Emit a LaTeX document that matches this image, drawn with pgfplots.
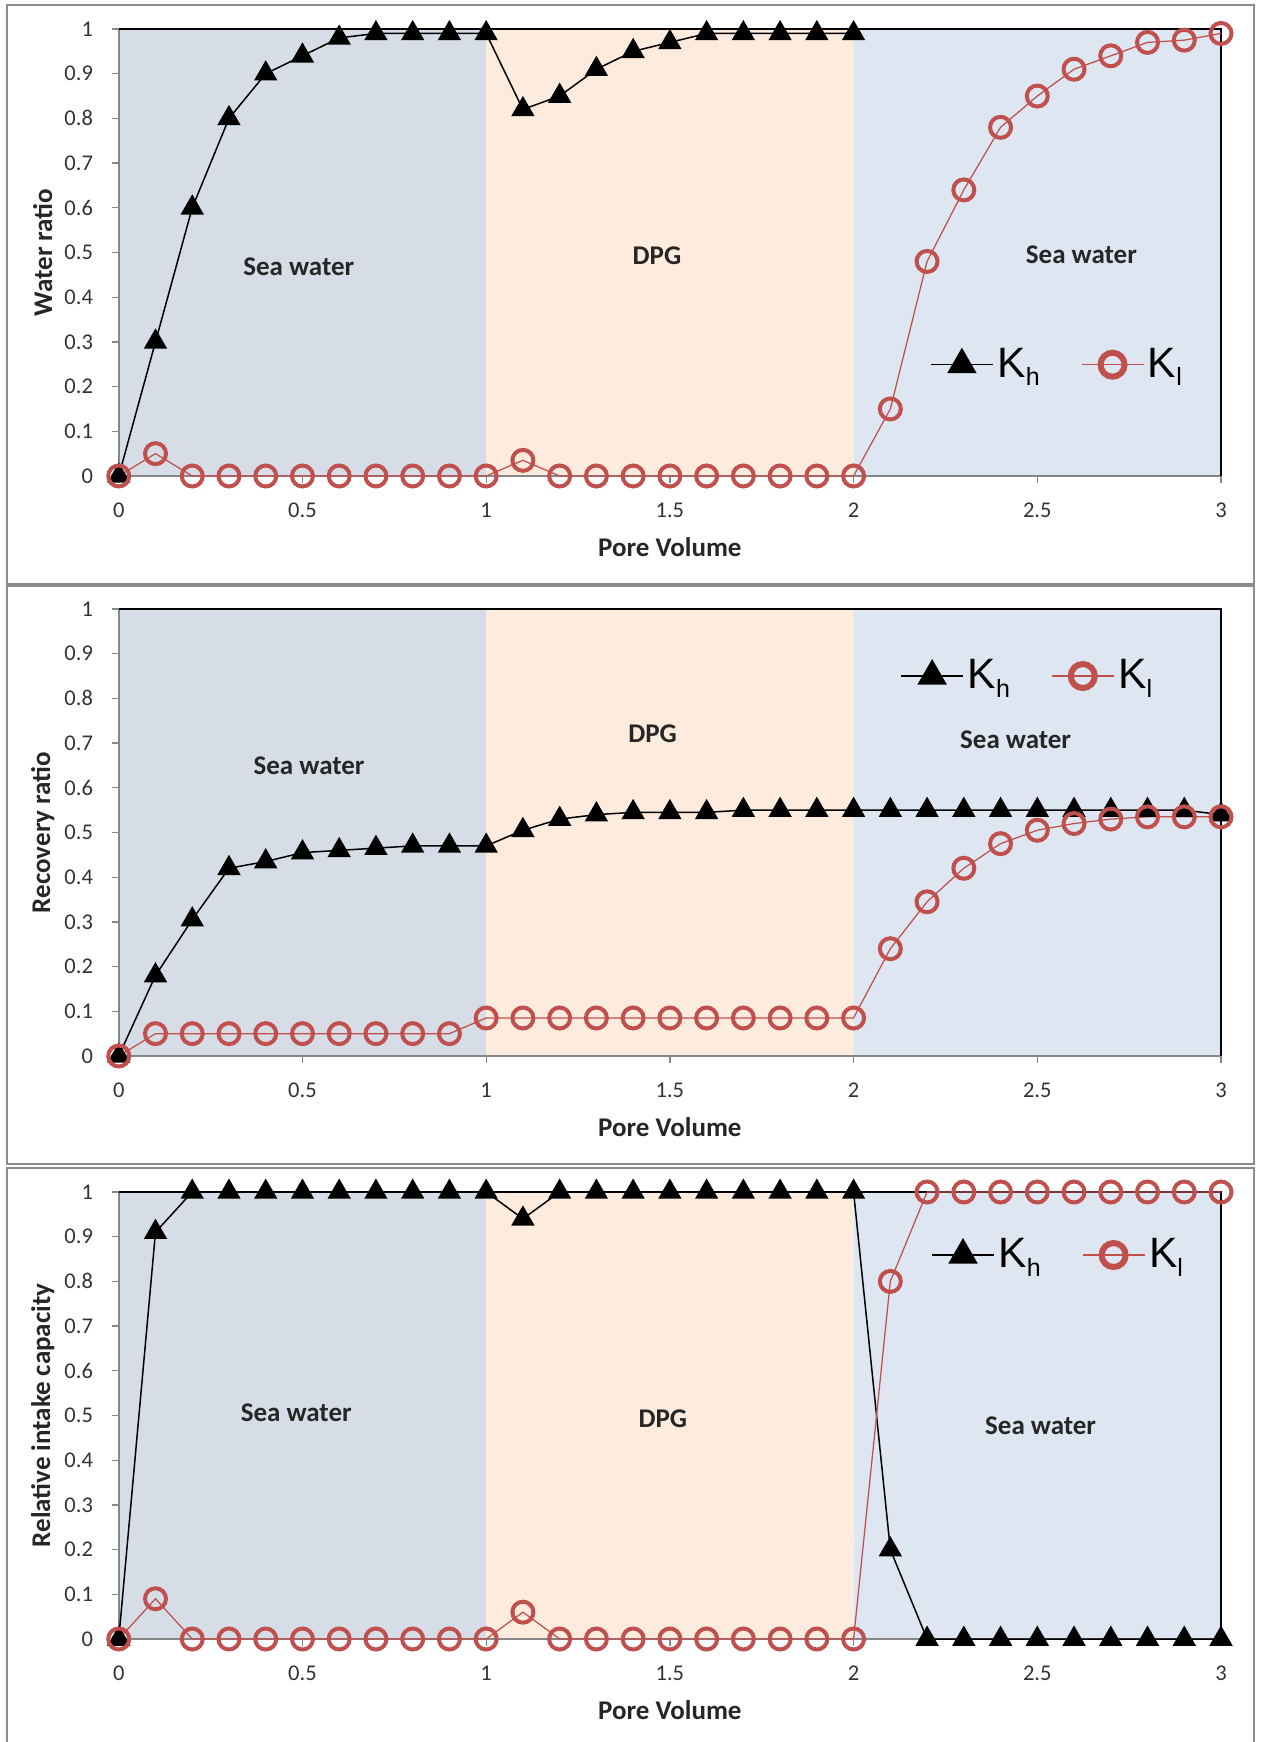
\documentclass[border=0pt]{standalone}
\usepackage{fontspec}
\setmainfont{Carlito}
\newfontfamily\arial{Liberation Sans}
\usepackage{pgfplots}
\pgfplotsset{compat=1.18}
\definecolor{klc}{RGB}{192,80,77}
\definecolor{bgL}{RGB}{215,221,230}
\definecolor{bgM}{RGB}{253,235,222}
\definecolor{bgR}{RGB}{221,230,241}
\definecolor{axgray}{RGB}{134,134,134}
\definecolor{frc}{RGB}{140,140,140}
\newcommand{\sub}[1]{\raisebox{-3.3pt}{\fontsize{10}{10}\selectfont #1}}
\tikzset{annot/.style={font=\bfseries\fontsize{10.8}{12}\selectfont, text=black!85}}
\pgfplotsset{
 panel/.style={
  scale only axis, width=440.9pt, height=178.8pt,
  xmin=0,xmax=3,ymin=0,ymax=1, clip=false,
  axis line style={draw=none},
  xtick={0,0.5,1,1.5,2,2.5,3}, xticklabels={0,0.5,1,1.5,2,2.5,3},
  ytick={0,0.1,0.2,0.3,0.4,0.5,0.6,0.7,0.8,0.9,1},
  yticklabels={0,0.1,0.2,0.3,0.4,0.5,0.6,0.7,0.8,0.9,1},
  xtick pos=bottom, ytick pos=left, tick align=outside,
  major tick length=2.8pt,
  tick style={draw=axgray, line width=0.5pt},
  tick label style={font=\fontsize{9}{10}\selectfont, text=black!80},
  yticklabel style={xshift=-4pt},
  xticklabel style={yshift=-4.5pt},
  xlabel={Pore Volume},
  label style={font=\bfseries\fontsize{10.8}{12}\selectfont, text=black!85},
  xlabel style={at={(axis description cs:0.5,-0.159)}, anchor=center},
  ylabel style={at={(axis description cs:-0.069,0.5)}, anchor=center},
  legend columns=2,
  legend style={draw=none, fill=none, anchor=center, font=\arial\fontsize{17}{18}\selectfont,
    nodes={inner xsep=1.5pt, inner ysep=1pt},
    /tikz/every even column/.append style={column sep=15pt}},
 },
 kh/.style={black, line width=0.6pt, mark=triangle*, mark size=4.8pt, mark options={solid, fill=black},
   legend image code/.code={%
     \draw[black, line width=0.6pt] (0pt,0pt) -- (24.8pt,0pt);
     \path[draw=black, fill=black] plot[only marks, mark=triangle*, mark size=6.2pt] coordinates {(12.4pt,0pt)};}},
 kl/.style={klc, line width=0.5pt, mark=o, mark size=4.2pt, mark options={solid, line width=1.6pt},
   legend image code/.code={%
     \draw[klc, line width=0.5pt] (0pt,0pt) -- (24.8pt,0pt);
     \draw[klc, line width=2.4pt] (12.4pt,0pt) circle[radius=4.8pt];}},
}
\newcommand{\backgrounds}{%
  \addplot[fill=bgL, draw=none, forget plot] coordinates {(0,0) (0,1) (1,1) (1,0)} \closedcycle;
  \addplot[fill=bgM, draw=none, forget plot] coordinates {(1,0) (1,1) (2,1) (2,0)} \closedcycle;
  \addplot[fill=bgR, draw=none, forget plot] coordinates {(2,0) (2,1) (3,1) (3,0)} \closedcycle;
  \addplot[axgray, line width=0.6pt, forget plot] coordinates {(0,1) (0,0) (3,0)};
  \addplot[black, line width=0.7pt, forget plot] coordinates {(0,1) (3,1) (3,0)};
}
\begin{document}
\begin{tikzpicture}
\path[use as bounding box] (0,0) rectangle (505.2pt,696.8pt);
\draw[frc, line width=0.8pt] (2.8pt,463.2pt) rectangle (501.6pt,694.8pt);
\draw[frc, line width=0.8pt] (2.8pt,231.2pt) rectangle (501.6pt,462.4pt);
\draw[frc, line width=0.8pt] (2.8pt,-2pt) rectangle (501.6pt,229.6pt);

% Panel 1
\begin{axis}[panel, at={(47.5pt,506.4pt)}, anchor=south west, ylabel={Water ratio},
  legend style={at={(axis description cs:0.852,0.249)}}]
\backgrounds
\addplot[kh] coordinates {(0,0) (0.1,0.30) (0.2,0.60) (0.3,0.80) (0.4,0.90) (0.5,0.94) (0.6,0.98) (0.7,0.99) (0.8,0.99) (0.9,0.99) (1.0,0.99) (1.1,0.82) (1.2,0.85) (1.3,0.91) (1.4,0.95) (1.5,0.97) (1.6,0.99) (1.7,0.99) (1.8,0.99) (1.9,0.99) (2.0,0.99)};
\addplot[kl] coordinates {(0,0) (0.1,0.05) (0.2,0) (0.3,0) (0.4,0) (0.5,0) (0.6,0) (0.7,0) (0.8,0) (0.9,0) (1.0,0) (1.1,0.035) (1.2,0) (1.3,0) (1.4,0) (1.5,0) (1.6,0) (1.7,0) (1.8,0) (1.9,0) (2.0,0) (2.1,0.15) (2.2,0.48) (2.3,0.64) (2.4,0.78) (2.5,0.85) (2.6,0.91) (2.7,0.94) (2.8,0.97) (2.9,0.975) (3.0,0.99)};
\legend{K\sub{h}, K\sub{l}}
\node[annot] at (axis cs:0.49,0.467) {Sea water};
\node[annot] at (axis cs:1.465,0.493) {DPG};
\node[annot] at (axis cs:2.62,0.496) {Sea water};
\end{axis}

% Panel 2
\begin{axis}[panel, at={(47.5pt,274.4pt)}, anchor=south west, ylabel={Recovery ratio},
  legend style={at={(axis description cs:0.825,0.850)}}]
\backgrounds
\addplot[kh] coordinates {(0,0) (0.1,0.18) (0.2,0.305) (0.3,0.42) (0.4,0.435) (0.5,0.455) (0.6,0.46) (0.7,0.465) (0.8,0.47) (0.9,0.47) (1.0,0.47) (1.1,0.505) (1.2,0.53) (1.3,0.54) (1.4,0.545) (1.5,0.545) (1.6,0.545) (1.7,0.55) (1.8,0.55) (1.9,0.55) (2.0,0.55) (2.1,0.55) (2.2,0.55) (2.3,0.55) (2.4,0.55) (2.5,0.55) (2.6,0.55) (2.7,0.55) (2.8,0.55) (2.9,0.55) (3.0,0.54)};
\addplot[kl] coordinates {(0,0) (0.1,0.05) (0.2,0.05) (0.3,0.05) (0.4,0.05) (0.5,0.05) (0.6,0.05) (0.7,0.05) (0.8,0.05) (0.9,0.05) (1.0,0.085) (1.1,0.085) (1.2,0.085) (1.3,0.085) (1.4,0.085) (1.5,0.085) (1.6,0.085) (1.7,0.085) (1.8,0.085) (1.9,0.085) (2.0,0.085) (2.1,0.24) (2.2,0.345) (2.3,0.42) (2.4,0.475) (2.5,0.505) (2.6,0.52) (2.7,0.53) (2.8,0.535) (2.9,0.535) (3.0,0.535)};
\legend{K\sub{h}, K\sub{l}}
\node[annot] at (axis cs:0.518,0.65) {Sea water};
\node[annot] at (axis cs:1.453,0.72) {DPG};
\node[annot] at (axis cs:2.441,0.708) {Sea water};
\end{axis}

% Panel 3
\begin{axis}[panel, at={(47.5pt,41.2pt)}, anchor=south west, ylabel={Relative intake capacity},
  legend style={at={(axis description cs:0.853,0.859)}}]
\backgrounds
\addplot[kh] coordinates {(0,0) (0.1,0.91) (0.2,1) (0.3,1) (0.4,1) (0.5,1) (0.6,1) (0.7,1) (0.8,1) (0.9,1) (1.0,1) (1.1,0.94) (1.2,1) (1.3,1) (1.4,1) (1.5,1) (1.6,1) (1.7,1) (1.8,1) (1.9,1) (2.0,1) (2.1,0.2) (2.2,0) (2.3,0) (2.4,0) (2.5,0) (2.6,0) (2.7,0) (2.8,0) (2.9,0) (3.0,0)};
\addplot[kl] coordinates {(0,0) (0.1,0.09) (0.2,0) (0.3,0) (0.4,0) (0.5,0) (0.6,0) (0.7,0) (0.8,0) (0.9,0) (1.0,0) (1.1,0.06) (1.2,0) (1.3,0) (1.4,0) (1.5,0) (1.6,0) (1.7,0) (1.8,0) (1.9,0) (2.0,0) (2.1,0.8) (2.2,1) (2.3,1) (2.4,1) (2.5,1) (2.6,1) (2.7,1) (2.8,1) (2.9,1) (3.0,1)};
\legend{K\sub{h}, K\sub{l}}
\node[annot] at (axis cs:0.483,0.507) {Sea water};
\node[annot] at (axis cs:1.481,0.492) {DPG};
\node[annot] at (axis cs:2.509,0.477) {Sea water};
\end{axis}
\end{tikzpicture}
\end{document}
